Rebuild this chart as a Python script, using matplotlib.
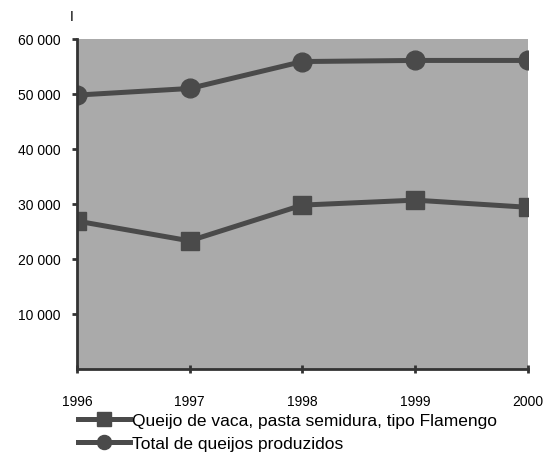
import matplotlib.pyplot as plt
from matplotlib.ticker import FuncFormatter

# Produção de queijo (toneladas)
anos = ['1996', '1997', '1998', '1999', '2000']
flamengo = [26900, 23300, 29800, 30700, 29400]
total_queijos = [49800, 51000, 55900, 56100, 56100]

plt.rcParams['font.family'] = ['Liberation Sans Narrow', 'Liberation Sans', 'DejaVu Sans']

fig = plt.figure(figsize=(5.49, 4.56), dpi=100)
ax = fig.add_axes([0.140, 0.1886, 0.8215, 0.7237])

cor = '#4a4a4a'
x = range(len(anos))
ax.plot(x, flamengo, color=cor, lw=3.6, marker='s', ms=13.5,
        label='Queijo de vaca, pasta semidura, tipo Flamengo')
ax.plot(x, total_queijos, color=cor, lw=3.6, marker='o', ms=13.5,
        label='Total de queijos produzidos')

ax.set_facecolor('#aaaaaa')
ax.set_xlim(0, len(anos) - 1)
ax.set_ylim(0, 60000)
ax.set_xticks(list(x))
ax.set_xticklabels(anos)
ax.set_yticks([10000, 20000, 30000, 40000, 50000, 60000])
ax.yaxis.set_major_formatter(FuncFormatter(lambda v, p: f'{int(v):,}'.replace(',', ' ')))
for s in ['top', 'right']:
    ax.spines[s].set_visible(False)
for s in ['left', 'bottom']:
    ax.spines[s].set_color('#333333')
    ax.spines[s].set_linewidth(2)
ax.tick_params(axis='y', direction='out', length=3.6, width=2, color='#333333', labelsize=10, pad=8)
ax.tick_params(axis='x', direction='inout', length=6, width=2, color='#333333', labelsize=10, pad=15)

fig.text(72 / 549, 1 - 17 / 456, 'I', fontsize=10, ha='center', va='center')

ax.legend(loc='upper left', bbox_to_anchor=(0.002, -0.133), frameon=False,
          fontsize=12.5, handlelength=3.0, handletextpad=0.15, labelspacing=0.45,
          borderaxespad=0, borderpad=0, markerscale=0.75)

fig.savefig('out.png', dpi=100)
